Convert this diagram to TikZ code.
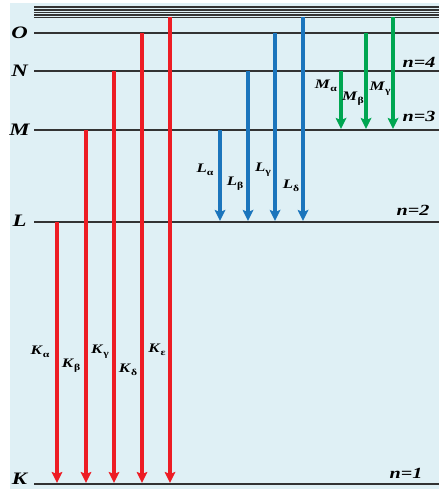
\documentclass[tikz,border=0pt]{standalone}
\usepackage{fontspec}
\setmainfont{Liberation Serif}
\usetikzlibrary{arrows.meta}
\definecolor{bgc}{HTML}{DFF0F5}
\definecolor{kred}{HTML}{ED1C24}
\definecolor{lblue}{HTML}{1B75BC}
\definecolor{mgreen}{HTML}{00A651}
\definecolor{lvl}{HTML}{333333}
\newcommand{\wide}[1]{\scalebox{1.3}[1]{#1}}
\newcommand{\sublab}[2]{\wide{\textbf{\textit{#1}}\raisebox{-0.5ex}{\fontsize{9}{9}\selectfont\bfseries #2}}}
\tikzset{
  level/.style={draw=lvl, line width=2.4pt},
  trans/.style={line width=3.1pt, -{Stealth[length=11pt,width=10.5pt,inset=2pt]}},
  lvlname/.style={font=\fontsize{17.5}{17.5}\selectfont\bfseries\itshape, anchor=center, inner sep=0pt},
  nlab/.style={font=\fontsize{15.5}{15.5}\selectfont\bfseries\itshape, inner sep=0pt},
  slab/.style={font=\fontsize{13}{13}\selectfont, inner sep=0pt},
}
\begin{document}
\begin{tikzpicture}[x=1pt,y=-1pt]
\useasboundingbox (0,0) rectangle (439,489);
\fill[bgc] (10,3) rectangle (439,489);
% top continuum
\foreach \yy in {7,10,12.5,15,17.5}{\draw[draw=lvl, line width=1.5pt] (34,\yy) -- (439,\yy);}
\coordinate (T) at (0,17.5);
% levels
\node[lvlname] (Ol) at (19.5,33) {\wide{O}};
\node[lvlname] (Nl) at (19.5,71) {\wide{N}};
\node[lvlname] (Ml) at (19.5,130) {\wide{M}};
\node[lvlname] (Ll) at (19.5,221) {\wide{L}};
\node[lvlname] (Kl) at (19.5,479) {\wide{K}};
\coordinate (O) at (0,33);
\coordinate (N) at (0,71);
\coordinate (M) at (0,130);
\coordinate (L) at (0,222);
\coordinate (K) at (0,484);
\foreach \c in {O,N,M,L,K}{\draw[level] (34,0 |- \c) -- (439,0 |- \c);}
% n labels
\node[nlab] (n4) at (419,62) {\wide{n=4}};
\node[nlab] (n3) at (419,116) {\wide{n=3}};
\node[nlab] (n2) at (413,210) {\wide{n=2}};
\node[nlab] (n1) at (406,473) {\wide{n=1}};
% K series
\draw[trans, kred] (57,222) -- (57,483);
\draw[trans, kred] (86,130) -- (86,483);
\draw[trans, kred] (114,71) -- (114,483);
\draw[trans, kred] (142,33) -- (142,483);
\draw[trans, kred] (170,17.5) -- (170,483);
\node[slab] (ka) at (40,352) {\sublab{K}{α}};
\node[slab] (kb) at (71,366) {\sublab{K}{β}};
\node[slab] (kg) at (100,352) {\sublab{K}{γ}};
\node[slab] (kd) at (128,370) {\sublab{K}{δ}};
\node[slab] (ke) at (157,350) {\sublab{K}{ε}};
% L series
\draw[trans, lblue] (220,130) -- (220,221);
\draw[trans, lblue] (248,71) -- (248,221);
\draw[trans, lblue] (275,33) -- (275,221);
\draw[trans, lblue] (303,17.5) -- (303,221);
\node[slab] (la) at (205,170) {\sublab{L}{α}};
\node[slab] (lb) at (235,184) {\sublab{L}{β}};
\node[slab] (lg) at (263,170) {\sublab{L}{γ}};
\node[slab] (ld) at (291,186) {\sublab{L}{δ}};
% M series
\draw[trans, mgreen] (341,71) -- (341,129);
\draw[trans, mgreen] (366,33) -- (366,129);
\draw[trans, mgreen] (393,17.5) -- (393,129);
\node[slab] (ma) at (326,86) {\sublab{M}{α}};
\node[slab] (mb) at (353,99) {\sublab{M}{β}};
\node[slab] (mg) at (380,89) {\sublab{M}{γ}};
\end{tikzpicture}
\end{document}
